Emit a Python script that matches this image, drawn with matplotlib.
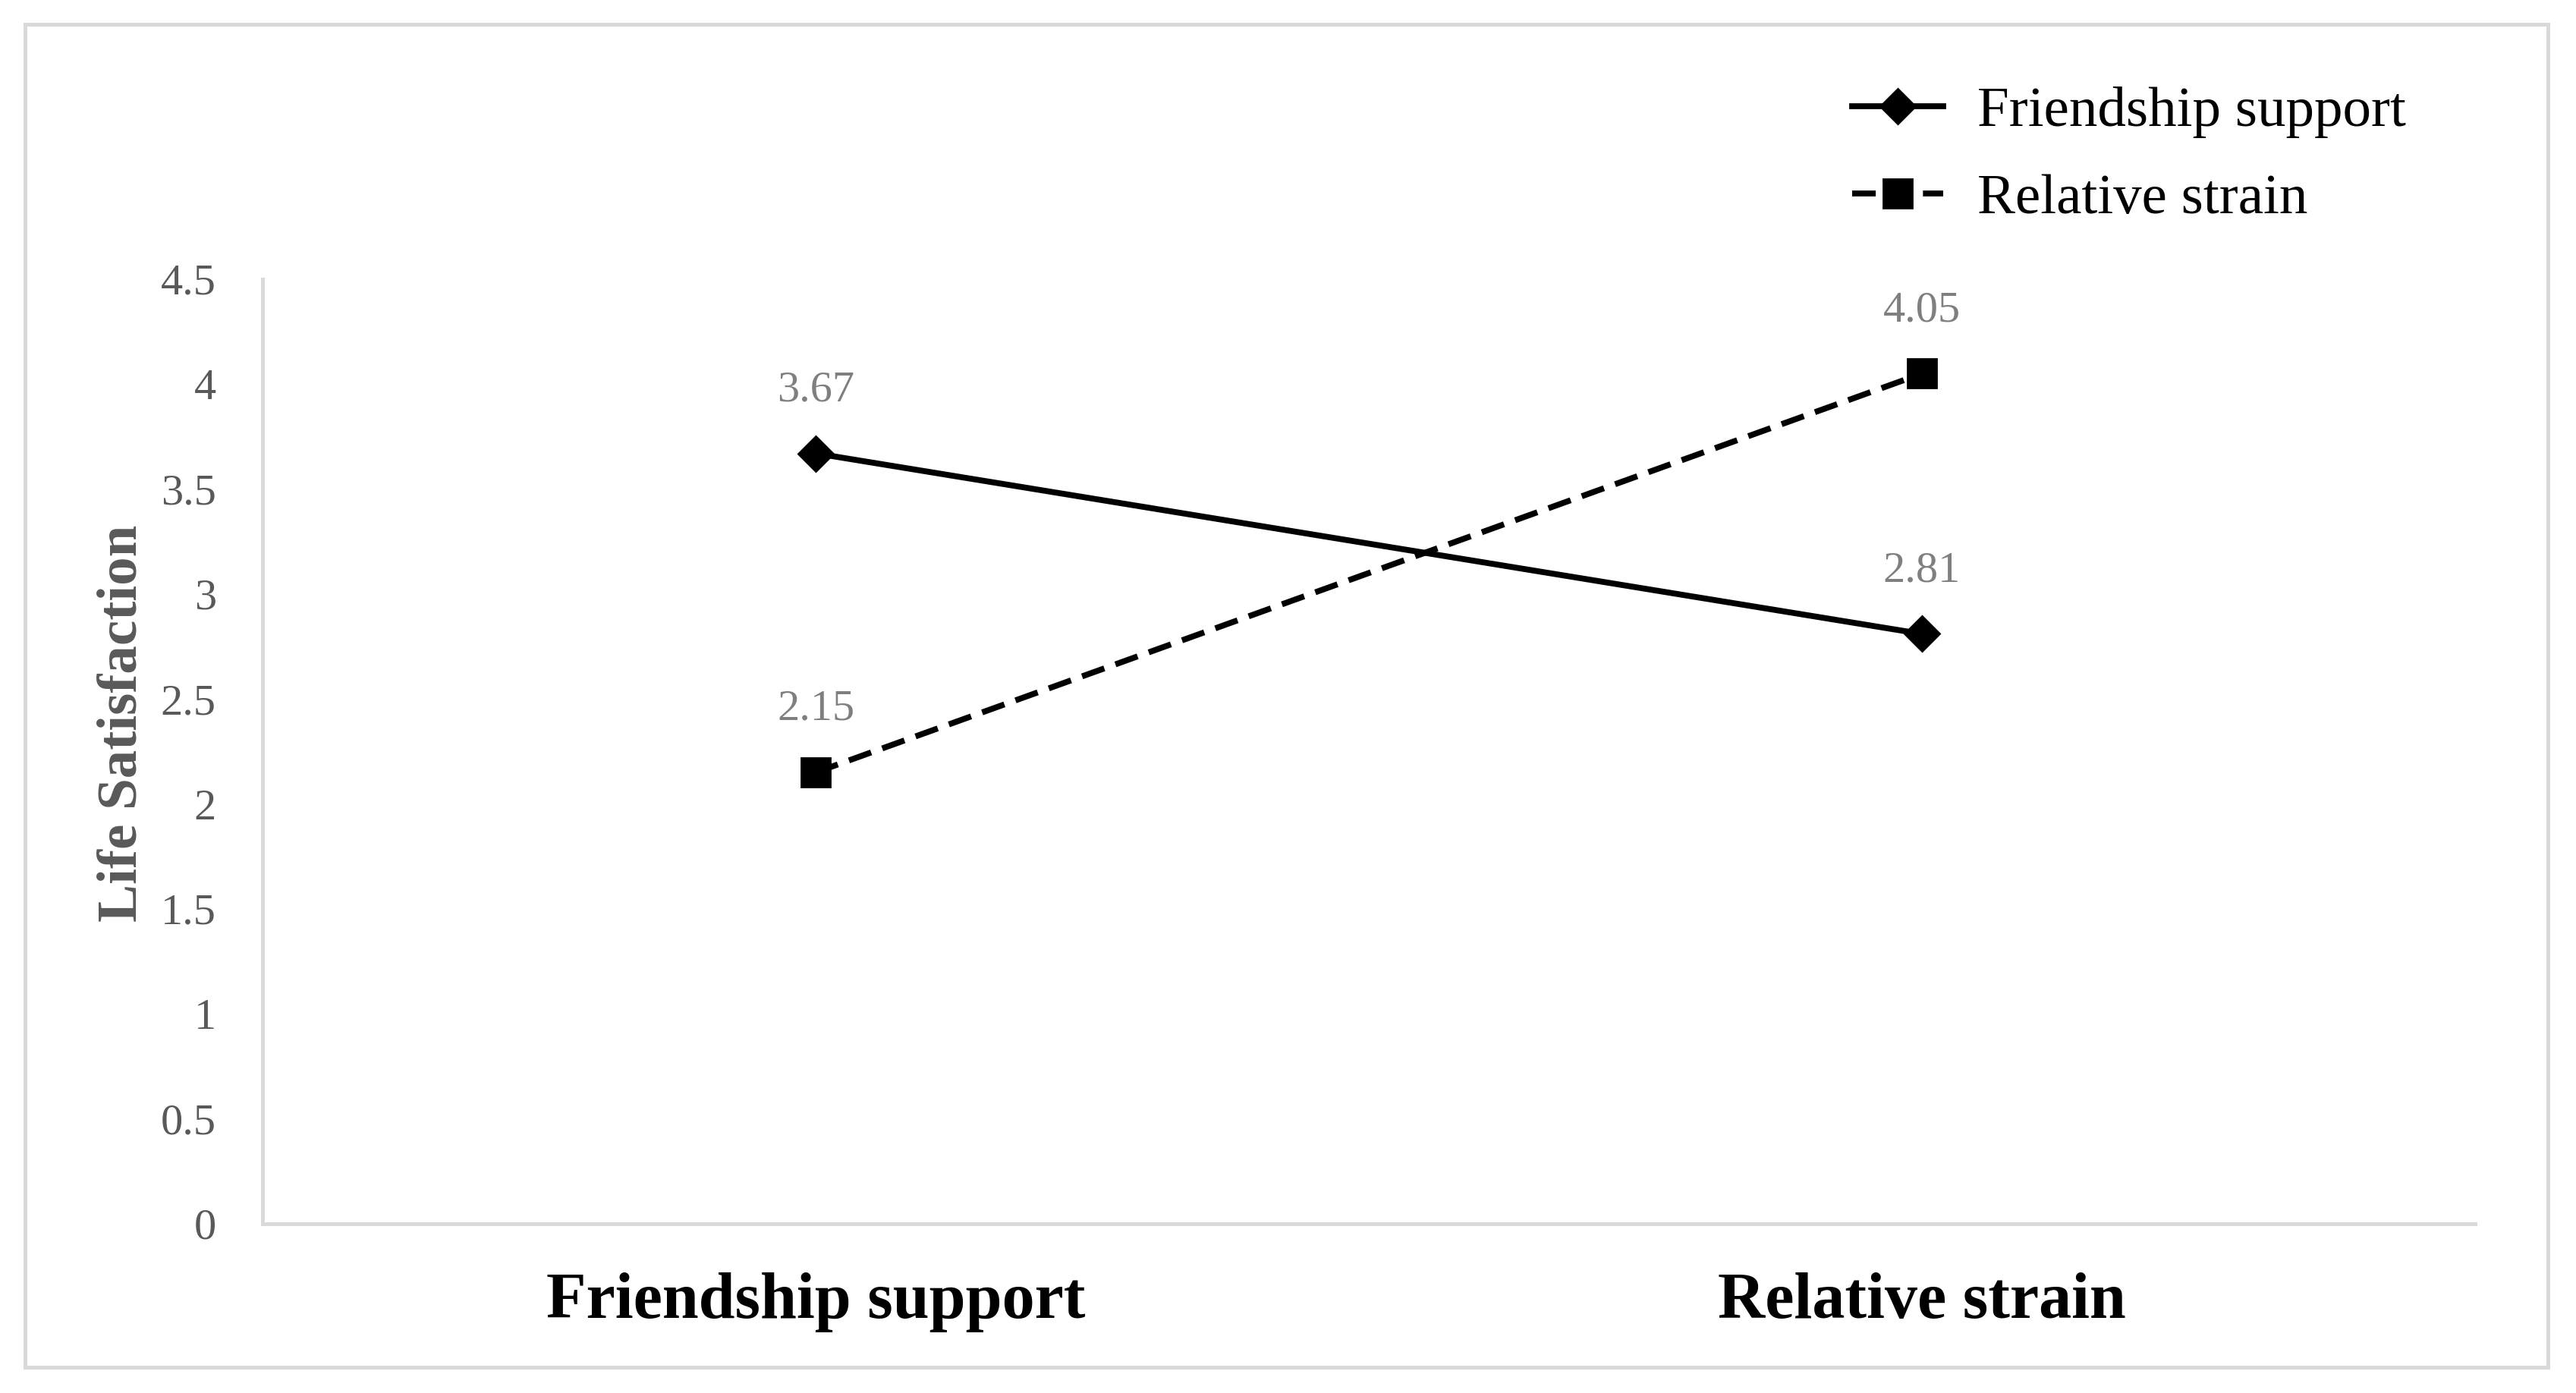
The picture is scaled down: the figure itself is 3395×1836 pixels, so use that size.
import numpy as np
import matplotlib.pyplot as plt
from matplotlib.patches import Rectangle

categories = ['Friendship support', 'Relative strain']
friendship_support = [3.67, 2.81]
relative_strain = [2.15, 4.05]
series_names = ['Friendship support', 'Relative strain']
yticks = [0, 0.5, 1, 1.5, 2, 2.5, 3, 3.5, 4, 4.5]

plt.rcParams['font.family'] = ['Liberation Serif', 'DejaVu Serif']

fig = plt.figure(figsize=(16.975, 9.18), dpi=200)
ax = fig.add_axes([0.1019, 0.1215, 0.8589, 0.6781])

x = np.arange(len(categories))

ax.plot(x, friendship_support, color='black', lw=2.8, marker='D', markersize=11.5,
        label=series_names[0])
ax.plot(x, relative_strain, color='black', lw=2.8, ls=(0, (4, 2)), marker='s',
        markersize=13.5, label=series_names[1])

for xi, v in zip(x, friendship_support):
    ax.annotate(f'{v:.2f}', (xi, v), xytext=(0, 30), textcoords='offset points',
                ha='center', va='center', fontsize=21, color='#7f7f7f')
for xi, v in zip(x, relative_strain):
    ax.annotate(f'{v:.2f}', (xi, v), xytext=(0, 30), textcoords='offset points',
                ha='center', va='center', fontsize=21, color='#7f7f7f')

ax.set_xlim(-0.5, 1.5)
ax.set_ylim(0, 4.5)
ax.set_yticks(yticks)
ax.set_yticklabels([f'{t:g}' for t in yticks])
ax.set_xticks(x)
ax.set_xticklabels(categories, fontsize=31, fontweight='bold', color='black')
ax.tick_params(axis='y', length=0, pad=22, labelsize=21, labelcolor='#595959')
ax.tick_params(axis='x', length=0, pad=23)

for s in ['top', 'right']:
    ax.spines[s].set_visible(False)
for s in ['left', 'bottom']:
    ax.spines[s].set_color('#d9d9d9')
    ax.spines[s].set_linewidth(1.8)

fig.text(162 / 3395, 1 - 953 / 1836, 'Life Satisfaction', rotation=90,
         ha='center', va='center', fontsize=27, fontweight='bold', color='#595959')

fig.legend(loc='upper left', bbox_to_anchor=(2403 / 3395, 1 - 76 / 1836),
           frameon=False, fontsize=27, handlelength=1.6, handletextpad=0.6,
           labelspacing=0.62, borderpad=0)

fig.patches.append(Rectangle((33 / 3395, 1 - 1802 / 1836), (3358 - 33) / 3395,
                             (1802 - 32) / 1836, transform=fig.transFigure,
                             fill=False, edgecolor='#d9d9d9', lw=1.8))

fig.savefig('out.png', dpi=200)
